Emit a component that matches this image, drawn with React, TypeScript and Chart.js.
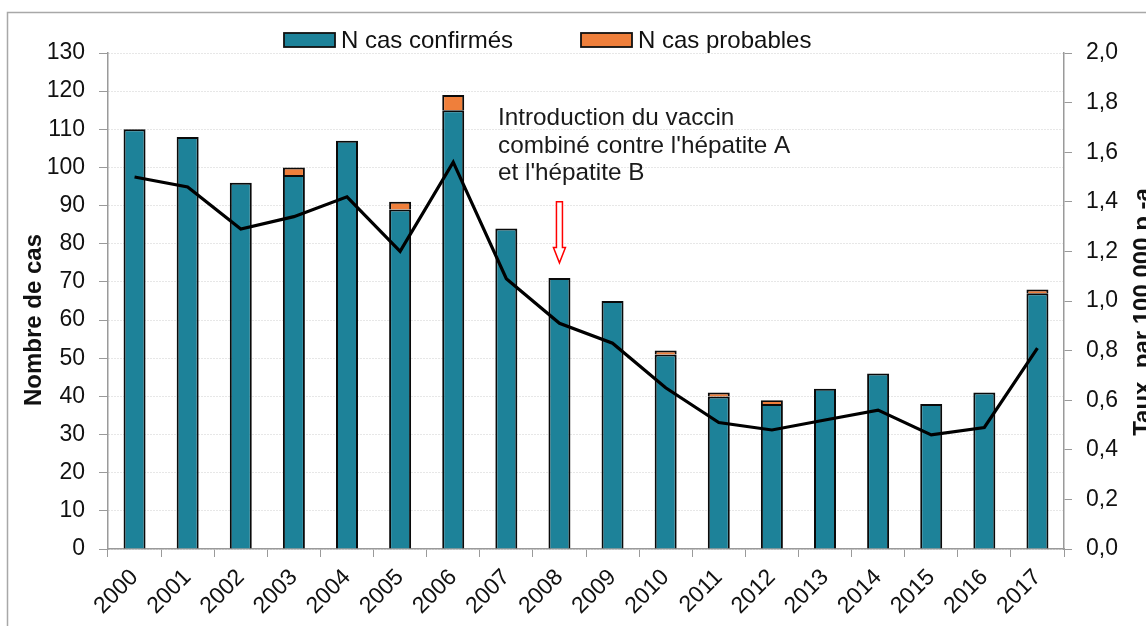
import React, { useEffect, useRef } from "react";
import { Chart, registerables } from "chart.js";

Chart.register(...registerables);

const years = ["2000","2001","2002","2003","2004","2005","2006","2007","2008","2009","2010","2011","2012","2013","2014","2015","2016","2017"];
const confirmed = [110,108,96,98,107,89,115,84,71,65,51,40,38,42,46,38,41,67];
const probable = [0,0,0,2,0,2,4,0,0,0,1,1,1,0,0,0,0,1];
const rate = [1.50,1.46,1.29,1.34,1.42,1.20,1.56,1.09,0.91,0.83,0.65,0.51,0.48,0.52,0.56,0.46,0.49,0.81];
const leftTicks = { min: 0, max: 130, step: 10 };
const rightTicks = { min: 0, max: 2, step: 0.2 };
const legendLabels = ["N cas confirmés", "N cas probables"];
const annotationLines = ["Introduction du vaccin", "combiné contre l'hépatite A", "et l'hépatite B"];
const leftTitle = "Nombre de cas";
const rightTitle = "Taux  par 100 000 p.-a";
const vaccineYearIndex = 8;

const TEAL = "#1d8299";
const ORANGE = "#ef7f3b";
const AXIS = "#9a9a9a";
const FONT = "'Liberation Sans', Arial, Helvetica, sans-serif";

export default function App() {
  const ref = useRef<HTMLCanvasElement | null>(null);

  useEffect(() => {
    document.body.style.margin = "0";
    const canvas = ref.current;
    if (!canvas) return;

    const decor = {
      id: "decor",
      beforeDraw(chart: any) {
        const ctx = chart.ctx;
        ctx.save();
        ctx.fillStyle = "#fff";
        ctx.fillRect(0, 0, chart.width, chart.height);
        ctx.restore();
      },
      afterDraw(chart: any) {
        const ctx = chart.ctx;
        const area = chart.chartArea;
        const xs = chart.scales.x;
        const ys = chart.scales.y;
        ctx.save();
        // frame
        ctx.strokeStyle = "#a8a8a8";
        ctx.lineWidth = 1.5;
        ctx.beginPath();
        ctx.moveTo(7.5, chart.height + 5);
        ctx.lineTo(7.5, 12.5);
        ctx.lineTo(chart.width + 5, 12.5);
        ctx.stroke();

        // legend
        ctx.font = `24px ${FONT}`;
        ctx.textBaseline = "alphabetic";
        const legendItems = [
          { x: 284, color: TEAL, label: legendLabels[0] },
          { x: 581, color: ORANGE, label: legendLabels[1] },
        ];
        for (const it of legendItems) {
          ctx.fillStyle = it.color;
          ctx.fillRect(it.x, 33, 51, 14);
          ctx.strokeStyle = "#111";
          ctx.lineWidth = 1.8;
          ctx.strokeRect(it.x, 33, 51, 14);
          ctx.fillStyle = "#111";
          ctx.fillText(it.label, it.x + 57, 48);
        }

        // axis titles
        ctx.font = `bold 24px ${FONT}`;
        ctx.fillStyle = "#111";
        ctx.textAlign = "center";
        ctx.textBaseline = "middle";
        const midY = (area.top + area.bottom) / 2;
        ctx.save();
        ctx.translate(34, (233 + 407) / 2);
        ctx.rotate(-Math.PI / 2);
        ctx.fillText(leftTitle, 0, 0);
        ctx.restore();
        ctx.save();
        ctx.translate(1143, midY + 11);
        ctx.rotate(-Math.PI / 2);
        ctx.fillText(rightTitle, 0, 0);
        ctx.restore();

        // annotation text
        ctx.font = `24.3px ${FONT}`;
        ctx.textAlign = "left";
        ctx.textBaseline = "alphabetic";
        ctx.fillStyle = "#1a1a1a";
        const tx = area.left + 390;
        annotationLines.forEach((l, i) => ctx.fillText(l, tx, 125 + i * 27.5));

        // arrow
        const ax = xs.getPixelForValue(vaccineYearIndex);
        const yTop = ys.getPixelForValue(91);
        const yHead = ys.getPixelForValue(79);
        const yTip = ys.getPixelForValue(75);
        ctx.strokeStyle = "#ff0000";
        ctx.fillStyle = "#fff";
        ctx.lineWidth = 1.5;
        ctx.beginPath();
        ctx.moveTo(ax - 3, yTop);
        ctx.lineTo(ax + 3, yTop);
        ctx.lineTo(ax + 3, yHead);
        ctx.lineTo(ax + 6, yHead);
        ctx.lineTo(ax, yTip);
        ctx.lineTo(ax - 6, yHead);
        ctx.lineTo(ax - 3, yHead);
        ctx.closePath();
        ctx.fill();
        ctx.stroke();
        ctx.restore();
      },
    };

    const chart = new Chart(canvas, {
      type: "bar",
      data: {
        labels: years,
        datasets: [
          {
            type: "line",
            label: "Taux",
            data: rate,
            yAxisID: "y1",
            borderColor: "#000",
            borderWidth: 3.2,
            pointRadius: 0,
            tension: 0,
            fill: false,
            order: 0,
          } as any,
          {
            label: legendLabels[0],
            data: confirmed,
            backgroundColor: TEAL,
            borderColor: "#0a0a0a",
            borderWidth: 2,
            yAxisID: "y",
            stack: "cas",
            order: 1,
          },
          {
            label: legendLabels[1],
            data: probable,
            backgroundColor: ORANGE,
            borderColor: "#0a0a0a",
            borderWidth: 2,
            yAxisID: "y",
            stack: "cas",
            order: 1,
          },
        ],
      },
      options: {
        animation: false,
        responsive: false,
        devicePixelRatio: 1,
        layout: { padding: { top: 53, left: 0, right: 0, bottom: 0 } },
        datasets: { bar: { categoryPercentage: 1, barPercentage: 0.414 } } as any,
        plugins: { legend: { display: false }, tooltip: { enabled: false }, title: { display: false } },
        scales: {
          x: {
            stacked: true,
            offset: true,
            grid: { display: true, drawOnChartArea: false, offset: true, color: AXIS, tickLength: 8 },
            border: { display: true, color: AXIS, width: 1.5 },
            ticks: {
              font: { family: FONT, size: 23 },
              color: "#111",
              minRotation: 45,
              maxRotation: 45,
              padding: 7,
              autoSkip: false,
            },
            afterFit: (s: any) => { s.height = 77; },
          },
          y: {
            stacked: true,
            position: "left",
            min: leftTicks.min,
            max: leftTicks.max,
            ticks: {
              stepSize: leftTicks.step,
              font: { family: FONT, size: 23 },
              color: "#111",
              padding: 14,
            },
            grid: {
              color: "#cfcfcf",
              tickColor: AXIS,
              tickLength: 9,
              tickBorderDash: [],
              lineWidth: 1,
            } as any,
            border: { display: true, color: AXIS, width: 1.5, dash: [1, 2] } as any,
            afterFit: (s: any) => { s.width = 108; },
          },
          y1: {
            position: "right",
            min: rightTicks.min,
            max: rightTicks.max,
            ticks: {
              stepSize: rightTicks.step,
              font: { family: FONT, size: 23 },
              color: "#111",
              padding: 14,
              callback: (v: any) => Number(v).toFixed(1).replace(".", ","),
            },
            grid: { drawOnChartArea: false, color: AXIS, tickLength: 8 },
            border: { display: true, color: AXIS, width: 1.5 },
            afterFit: (s: any) => { s.width = 82; },
          },
        },
      },
      plugins: [decor],
    });

    return () => chart.destroy();
  }, []);

  return (
    <div style={{ width: 1146, height: 626, overflow: "hidden" }}>
      <canvas ref={ref} width={1146} height={626} style={{ display: "block" }} />
    </div>
  );
}
